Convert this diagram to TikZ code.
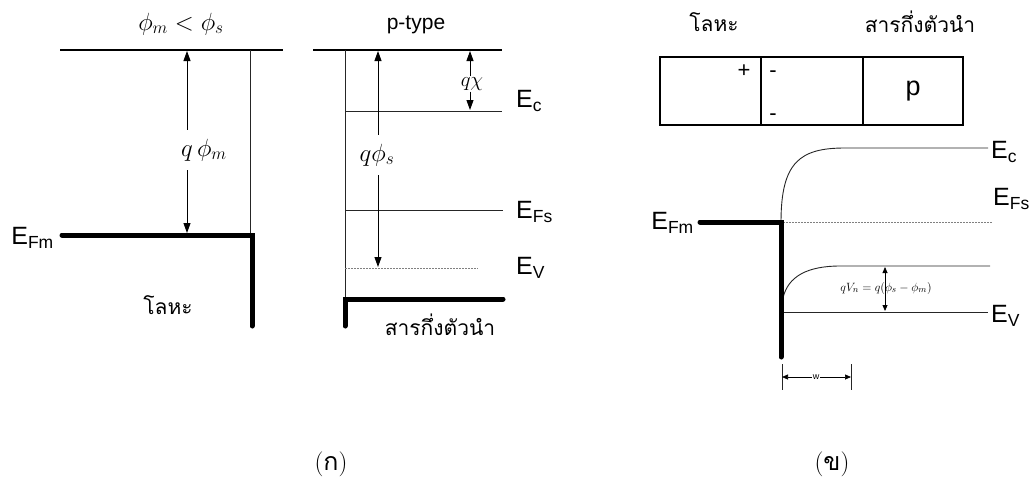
\documentclass[tikz,border=0pt]{standalone}
\usepackage{fontspec}
\newfontfamily\arial{Liberation Sans}
\newfontfamily\thai[Script=Thai]{Loma}
\usetikzlibrary{arrows.meta}
\tikzset{
  thinln/.style={line width=0.9pt, black!85},
  vac/.style={line width=1.9pt},
  thick/.style={line width=5pt, line cap=round, line join=miter},
  arr/.style={line width=0.9pt, -{Triangle[length=10pt,width=7pt]}},
  lev/.style={font=\arial\fontsize{25}{28}\selectfont, anchor=west, inner sep=1pt},
  th/.style={font=\thai\fontsize{21}{25}\selectfont, inner sep=1pt},
  dotl/.style={line width=0.9pt, black!50, dash pattern=on 1.5pt off 1.5pt},
  mlab/.style={font=\fontsize{25}{28}\selectfont, inner sep=1pt, fill=white}
}
\begin{document}
\begin{tikzpicture}[x=1pt,y=-1pt]
\useasboundingbox (0,0) rectangle (1035,485);

% ---------- (a) metal ----------
\node[font=\fontsize{27}{30}\selectfont] (title) at (181,24) {$\phi_m < \phi_s$};
\coordinate (mvL) at (60,50); \coordinate (mvR) at (283,50);
\draw[vac] (mvL) -- (mvR);
\coordinate (mvt) at (250,50); \coordinate (mft) at (250,235);
\draw[thinln] (mvt) -- (mft);
\coordinate (mEFL) at (62,235); \coordinate (mEFc) at (252,235); \coordinate (mEFb) at (252,326);
\draw[thick] (mEFL) -- (mEFc) -- (mEFb);
\node[lev, anchor=east] (EFm1) at (55,238) {E\textsubscript{Fm}};
\node[th] (metal1) at (168,305) {โลหะ};
\coordinate (qa1) at (187,51); \coordinate (qa2) at (187,233);
\node[mlab] (qphim) at (204,150) {$q\,\phi_m$};
\draw[arr] (qphim.north -| qa1) ++(0,-8) -- (qa1);
\draw[arr] (qphim.south -| qa1) ++(0,8) -- (qa2);

% ---------- (a) semiconductor ----------
\node[font=\arial\fontsize{21}{24}\selectfont] (ptype) at (416,25) {p-type};
\coordinate (svL) at (313,50); \coordinate (svR) at (502,50);
\draw[vac] (svL) -- (svR);
\coordinate (svt) at (345,50); \coordinate (svb) at (345,299);
\draw[thinln] (svt) -- (svb);
\coordinate (EcL) at (345,111); \coordinate (EcR) at (502,111);
\draw[thinln] (EcL) -- (EcR);
\coordinate (EfL) at (345,210); \coordinate (EfR) at (503,210);
\draw[thinln] (EfL) -- (EfR);
\coordinate (EvL) at (345,268); \coordinate (EvR) at (478,268);
\draw[dotl] (EvL) -- (EvR);
\coordinate (sThL) at (345,326); \coordinate (sThc) at (345,299); \coordinate (sThR) at (503,299);
\draw[thick] (sThL) -- (sThc) -- (sThR);
\node[lev] (Ec1) at (515,101) {E\textsubscript{c}};
\node[lev] (Efs1) at (515,212) {E\textsubscript{Fs}};
\node[lev] (Ev1) at (515,268) {E\textsubscript{V}};
\node[th] (semi1) at (440,325) {สารกึ่งตัวนำ};
% q chi
\coordinate (qc1) at (470,51); \coordinate (qc2) at (470,110);
\node[mlab, font=\fontsize{20}{23}\selectfont] (qchi) at (472,84) {$q\chi$};
\draw[arr] (qchi.north -| qc1) -- (qc1);
\draw[arr] (qchi.south -| qc1) -- (qc2);
% q phi s
\coordinate (qs1) at (378,51); \coordinate (qs2) at (378,267);
\node[mlab] (qphis) at (377,155) {$q\phi_s$};
\draw[arr] (qphis.north -| qs1) ++(0,-8) -- (qs1);
\draw[arr] (qphis.south -| qs1) ++(0,8) -- (qs2);

\node[font=\fontsize{25}{28}\selectfont] (capa) at (331,464) {(\thai ก\normalfont)};

% ---------- (b) ----------
\node[th] (metal2) at (714,22) {โลหะ};
\node[th] (semi2) at (920,22) {สารกึ่งตัวนำ};
\node[draw, line width=1.3pt, minimum width=303pt, minimum height=68pt, inner sep=0pt] (box) at (811.5,91) {};
\coordinate (d1t) at (761,57); \coordinate (d1b) at (761,125);
\coordinate (d2t) at (863,57); \coordinate (d2b) at (863,125);
\draw[line width=1.3pt] (d1t) -- (d1b);
\draw[line width=1.3pt] (d2t) -- (d2b);
\node[font=\arial\fontsize{22}{24}\selectfont] (plus) at (744,71) {+};
\node[font=\arial\fontsize{22}{24}\selectfont] (min1) at (773,74) {-};
\node[font=\arial\fontsize{22}{24}\selectfont] (min2) at (773,117) {-};
\node[font=\arial\fontsize{27}{30}\selectfont] (pp) at (913,91) {p};

\coordinate (bEFL) at (700,222); \coordinate (bEFc) at (781,222); \coordinate (bEFb) at (781,357);
\node[lev, anchor=east] (EFm2) at (695,223) {E\textsubscript{Fm}};
% Ec curve
\coordinate (bEcS) at (781,222); \coordinate (bEcK) at (845,148); \coordinate (bEcR) at (988,148);
\draw[thinln] (bEcS) .. controls (781,162) and (800,148) .. (bEcK) -- (bEcR);
% EFs dotted
\coordinate (bEfL) at (783,222); \coordinate (bEfR) at (992,222);
\draw[dotl] (bEfL) -- (bEfR);
% valence curve
\coordinate (bEvS) at (783,298); \coordinate (bEvK) at (840,266); \coordinate (bEvR) at (990,266);
\draw[thinln] (bEvS) .. controls (788,276) and (808,266) .. (bEvK) -- (bEvR);
\coordinate (bEvL) at (783,312); \coordinate (bEvR2) at (988,312);
\draw[thinln] (bEvL) -- (bEvR2);
\draw[thick] (bEFL) -- (bEFc) -- (bEFb);
\node[lev] (Ec2) at (990,152) {E\textsubscript{c}};
\node[lev] (Efs2) at (992,199) {E\textsubscript{Fs}};
\node[lev] (Ev2) at (990,316) {E\textsubscript{V}};
% qVn arrow
\coordinate (qv1) at (885,267); \coordinate (qv2) at (885,311);
\draw[line width=0.8pt, {Triangle[length=6pt,width=5pt]}-{Triangle[length=6pt,width=5pt]}] (qv1) -- (qv2);
\node[font=\fontsize{13}{15}\selectfont, inner sep=1pt] (qvn) at (886,288) {$qV_n = q(\phi_s - \phi_m)$};
% w
\coordinate (w1t) at (782,364); \coordinate (w1b) at (782,390);
\coordinate (w2t) at (851,364); \coordinate (w2b) at (851,390);
\draw[thinln, line width=0.7pt] (w1t) -- (w1b);
\draw[thinln, line width=0.7pt] (w2t) -- (w2b);
\node[font=\arial\fontsize{9}{10}\selectfont, fill=white, inner sep=1pt] (wl) at (816,377) {w};
\coordinate (wa) at (782,377); \coordinate (wb) at (851,377);
\draw[line width=0.7pt, -{Triangle[length=6pt,width=5pt]}] (wl.west) -- (wa);
\draw[line width=0.7pt, -{Triangle[length=6pt,width=5pt]}] (wl.east) -- (wb);

\node[font=\fontsize{25}{28}\selectfont] (capb) at (832,464) {(\thai ข\normalfont)};
\end{tikzpicture}
\end{document}
